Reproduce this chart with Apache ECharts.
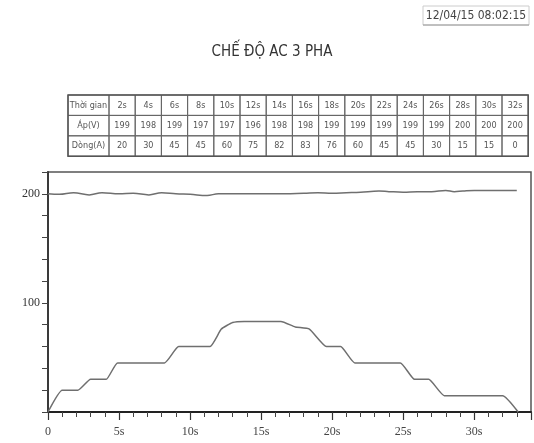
<!DOCTYPE html>
<html>
<head>
<meta charset="utf-8">
<script src="https://cdn.jsdelivr.net/npm/echarts@6/dist/echarts.min.js"></script>
<style>
html,body{margin:0;padding:0;background:#fff;}
#c{width:534px;height:443px;}
</style>
</head>
<body>
<div id="c"></div>
<script>
// ---- data ----
var titleText = 'CHẾ ĐỘ AC 3 PHA';
var dateText = '12/04/15 08:02:15';
var rowHeaders = ['Thời gian', 'Áp(V)', 'Dòng(A)'];
var tableTimes = ['2s','4s','6s','8s','10s','12s','14s','16s','18s','20s','22s','24s','26s','28s','30s','32s'];
var tableVolt = [199,198,199,197,197,196,198,198,199,199,199,199,199,200,200,200];
var tableCurr = [20,30,45,45,60,75,82,83,76,60,45,45,30,15,15,0];
// curve readings (time in s, value)
var currT = [0,1,2.1,3,4.1,4.9,8.2,9.2,11.4,12.2,13,13.8,16.4,17.4,18.4,19.6,20.6,21.6,24.8,25.8,26.8,27.9,32,33.1];
var currV = [0,20,20,30,30,45,45,60,60,76,82,83,83,78,76,60,60,45,45,30,30,15,15,0];
var voltT = [0,0.8,1.8,2.9,3.8,5,6,7.1,8,9,10,11.2,12,14,16,18,19,20,21,22,23.3,24,25,26,27,28,28.6,29.2,30,31,33];
var voltV = [200,199.5,201,199,201,200,200.5,199,201,200,199.5,198.5,200,200,200,200.5,201,200.5,201,201.5,202.5,202,201.5,202,202,203,202,202.5,203,203,203];
var xTickLabels = ['0','5s','10s','15s','20s','25s','30s'];
var yTickLabels = ['100','200'];

// ---- build ----
function pairs(t, v){ var r=[]; for (var i=0;i<t.length;i++) r.push([t[i], v[i]]); return r; }

var L = {left:68, top:95, firstW:41, colW:26.2, rowH:20.4};
var tableRows = [tableTimes, tableVolt, tableCurr];
var graphics = [];
var narrow = '"Liberation Sans Narrow","DejaVu Sans Condensed",Arial,sans-serif';
for (var r=0;r<3;r++){
  var y = L.top + r*L.rowH;
  graphics.push({type:'rect', shape:{x:L.left, y:y, width:L.firstW, height:L.rowH},
    style:{fill:'none', stroke:'#666', lineWidth:1}});
  graphics.push({type:'text', x:L.left+L.firstW/2, y:y+L.rowH/2,
    style:{text:rowHeaders[r], fill:'#555', font:'9px '+narrow, align:'center', verticalAlign:'middle'}});
  for (var c=0;c<tableTimes.length;c++){
    var x = L.left + L.firstW + c*L.colW;
    graphics.push({type:'rect', shape:{x:x, y:y, width:L.colW, height:L.rowH},
      style:{fill:'none', stroke:'#666', lineWidth:1}});
    graphics.push({type:'text', x:x+L.colW/2, y:y+L.rowH/2,
      style:{text:String(tableRows[r][c]), fill:'#555', font:'9px '+narrow, align:'center', verticalAlign:'middle'}});
  }
}
// outer table border
graphics.push({type:'rect', shape:{x:L.left, y:L.top, width:L.firstW+L.colW*tableTimes.length, height:L.rowH*3},
  style:{fill:'none', stroke:'#555', lineWidth:1.5}});
// date box
graphics.push({type:'rect', shape:{x:423, y:6, width:106, height:19},
  style:{fill:'#fff', stroke:'#ccc', lineWidth:1}});
graphics.push({type:'line', shape:{x1:423, y1:25, x2:529, y2:25}, style:{stroke:'#999', lineWidth:1.2}});
graphics.push({type:'text', x:476, y:15.5,
  style:{text:dateText, fill:'#444', font:'12px '+narrow, align:'center', verticalAlign:'middle'}});
// title
graphics.push({type:'text', x:272, y:52,
  style:{text:titleText, fill:'#333', font:'15px '+narrow, align:'center', verticalAlign:'middle'}});

var chart = echarts.init(document.getElementById('c'), null, {renderer:'canvas'});
chart.setOption({
  animation:false,
  backgroundColor:'#fff',
  grid:{left:48, top:172, right:2, bottom:31, show:true, borderColor:'#555', borderWidth:1.5, backgroundColor:'transparent'},
  xAxis:{
    type:'value', min:0, max:34, interval:5,
    axisLine:{show:true, lineStyle:{color:'#222', width:2}},
    axisTick:{show:true, length:8, lineStyle:{color:'#333', width:1.2}},
    minorTick:{show:true, splitNumber:5, length:5, lineStyle:{color:'#444', width:1}},
    splitLine:{show:false},
    axisLabel:{
      color:'#444', fontSize:12, fontFamily:'"Liberation Serif",serif', margin:14,
      formatter:function(v){ return (v % 5 === 0 && v/5 < xTickLabels.length) ? xTickLabels[v/5] : ''; }
    }
  },
  yAxis:{
    type:'value', min:0, max:220, interval:20,
    axisLine:{show:true, lineStyle:{color:'#333', width:1.8}},
    axisTick:{show:true, length:6, lineStyle:{color:'#444', width:1}},
    splitLine:{show:false},
    axisLabel:{
      color:'#333', fontSize:12, fontFamily:'"Liberation Serif",serif', margin:8,
      formatter:function(v){ var s=String(v); return yTickLabels.indexOf(s) >= 0 ? s : ''; }
    }
  },
  series:[
    {type:'line', data:pairs(voltT, voltV), symbol:'none', smooth:0.4,
      lineStyle:{color:'#6f6f6f', width:1.5}},
    {type:'line', data:pairs(currT, currV), symbol:'none', smooth:0.15,
      lineStyle:{color:'#6f6f6f', width:1.5}}
  ],
  graphic:graphics
});
</script>
</body>
</html>
